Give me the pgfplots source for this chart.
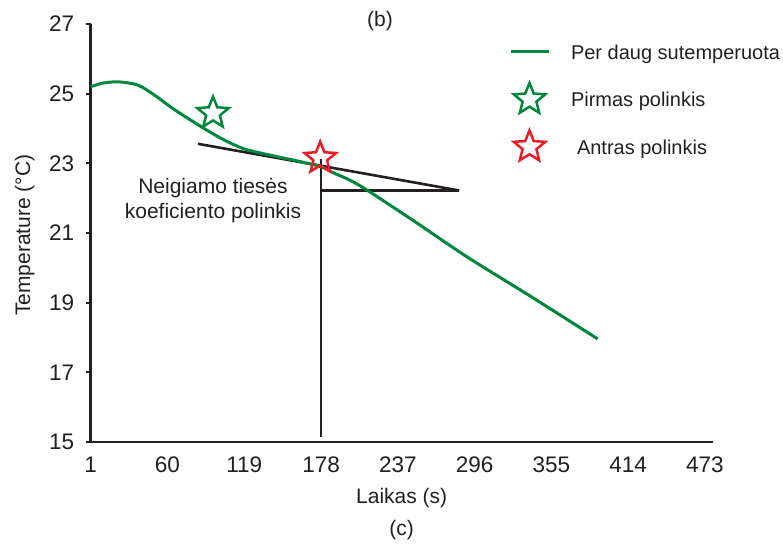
\documentclass[border=0pt]{standalone}
\usepackage{fontspec}
\setmainfont{Liberation Sans}
\usepackage{pgfplots}
\pgfplotsset{compat=1.18}
\definecolor{curvegreen}{RGB}{0,135,62}
\definecolor{starred}{RGB}{237,28,36}
\definecolor{axiscol}{RGB}{35,31,32}
\pgfdeclareplotmark{ostar}{%
 \pgfpathmoveto{\pgfpointpolar{90}{\pgfplotmarksize}}%
 \pgfpathlineto{\pgfpointpolar{126}{0.44\pgfplotmarksize}}%
 \pgfpathlineto{\pgfpointpolar{162}{\pgfplotmarksize}}%
 \pgfpathlineto{\pgfpointpolar{198}{0.44\pgfplotmarksize}}%
 \pgfpathlineto{\pgfpointpolar{234}{\pgfplotmarksize}}%
 \pgfpathlineto{\pgfpointpolar{270}{0.44\pgfplotmarksize}}%
 \pgfpathlineto{\pgfpointpolar{306}{\pgfplotmarksize}}%
 \pgfpathlineto{\pgfpointpolar{342}{0.44\pgfplotmarksize}}%
 \pgfpathlineto{\pgfpointpolar{18}{\pgfplotmarksize}}%
 \pgfpathlineto{\pgfpointpolar{54}{0.44\pgfplotmarksize}}%
 \pgfpathclose
 \pgfusepathqstroke
}
\pgfplotsset{
  lineleg/.style={legend image code/.code={\path[draw=none,fill=none] (0pt,-20pt) rectangle (38pt,20pt); \draw[##1] (0pt,0pt) -- (38pt,0pt);}},
  starleg/.style={legend image code/.code={\path[draw=none,fill=none] (0pt,-20pt) rectangle (38pt,20pt); \draw[##1,mark repeat=2,mark phase=2] plot coordinates {(0pt,0pt) (19pt,0pt) (38pt,0pt)};}},
}
\begin{document}
\begin{tikzpicture}
\path[use as bounding box] (-90.7pt,-102pt) rectangle (692.3pt,442pt);
\begin{axis}[
  at={(0pt,0pt)}, anchor=south west,
  scale only axis, width=622pt, height=418pt,
  xmin=1, xmax=479, ymin=15, ymax=27,
  axis lines=left,
  axis line style={-, line width=2.8pt, color=axiscol},
  xtick={1,60,119,178,237,296,355,414,473},
  ytick={15,17,19,21,23,25,27},
  x tick style={draw=none},
  y tick style={line width=2.2pt, color=axiscol},
  tick align=outside, major tick length=5pt,
  /pgf/number format/assume math mode=true,
  ticklabel style={font=\fontsize{22.5}{26}\selectfont, text=axiscol},
  xticklabel style={yshift=-6pt},
  yticklabel style={xshift=-8pt},
  label style={font=\fontsize{21}{25}\selectfont, text=axiscol},
  xlabel={Laikas (s)},
  xlabel style={at={(axis description cs:0.5,-0.133)}, anchor=center},
  ylabel={Temperature (°C)},
  ylabel style={at={(axis description cs:-0.106,0.495)}, anchor=center},
  clip=false,
  legend style={at={(rel axis cs:0.6725,0.981)}, anchor=north west,
    inner sep=0pt, outer sep=0pt, draw=none, fill=none,
    font=\fontsize{20}{24}\selectfont, text=axiscol,
    row sep=7.5pt, column sep=21pt,
    nodes={inner sep=0pt, text height=14.4pt, text depth=0pt, anchor=west}},
  legend cell align=left,
]
\addplot[axiscol, line width=2.6pt, forget plot] coordinates {(83.5,23.56) (284.2,22.22)};
\addplot[axiscol, line width=2.6pt, forget plot] coordinates {(178,22.22) (284.2,22.22)};
\addplot[axiscol, line width=2.6pt, forget plot] coordinates {(178,23.12) (178,15.15)};
\addplot[curvegreen, line width=3pt, smooth, lineleg]
  coordinates {
  (1,25.2) (10,25.3) (22,25.34) (37,25.25) (50,24.96) (65,24.55) (86,24.05)
  (101,23.72) (112,23.52) (122,23.38) (142,23.21) (162,23.05) (178,22.9)
  (188,22.72) (200,22.52) (213,22.24) (250,21.33) (290,20.32) (340,19.16) (390.6,17.96)
  };
\addlegendentry{Per daug sutemperuota}
\addplot[only marks, mark=ostar, mark size=16.5pt, curvegreen, mark options={line width=2.5pt}, starleg]
  coordinates {(95,24.44)};
\addlegendentry{Pirmas polinkis}
\addplot[only marks, mark=ostar, mark size=16.5pt, starred, mark options={line width=2.5pt}, starleg]
  coordinates {(177.4,23.15)};
\addlegendentry{\hspace*{6pt}Antras polinkis}
\node[font=\fontsize{21}{25.5}\selectfont, text=axiscol, align=center] at (axis cs:95,21.93)
  {Neigiamo tiesės\\koeficiento polinkis};
\node[font=\fontsize{21}{25}\selectfont, text=axiscol] at (rel axis cs:0.465,1.006) {(b)};
\node[font=\fontsize{21}{25}\selectfont, text=axiscol] at (rel axis cs:0.5,-0.2105) {(c)};
\end{axis}
\end{tikzpicture}
\end{document}
